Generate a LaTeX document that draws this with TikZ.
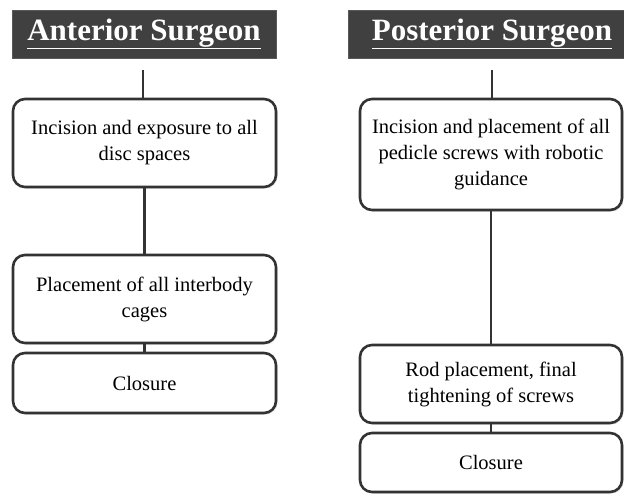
\documentclass[tikz,border=0pt]{standalone}
\usepackage{fontspec}
\setmainfont{Liberation Serif}
\usetikzlibrary{shadows}
\definecolor{darkline}{HTML}{333333}
\definecolor{titlegray}{HTML}{404040}

\begin{document}
\begin{tikzpicture}[x=1pt,y=-1pt,
  title node/.style={fill=titlegray,draw=gray!70!black,rectangle,text=white,
    font=\fontsize{31}{36}\selectfont\bfseries,inner sep=0pt},
  main node/.style={fill=white,rounded corners=12pt,draw=darkline,line width=2.6pt,
    align=center,font=\fontsize{20.5}{26}\selectfont,inner sep=0pt,
    drop shadow={shadow xshift=1.5pt,shadow yshift=-1.5pt,opacity=0.25}}]

  \useasboundingbox (0,0) rectangle (624,493);

  \node[title node,minimum width=264pt,minimum height=48pt] (0) at (144,34) {\underline{Anterior Surgeon}};
  \node[title node,minimum width=288pt,minimum height=48pt] (4) at (492,34) {\underline{Posterior Surgeon}};

  \coordinate (0s) at (143,70);
  \coordinate (4s) at (492,70);

  \node[main node,minimum width=263pt,minimum height=88pt] (1) at (144.5,143) {Incision and exposure to all\\disc spaces};
  \node[main node,minimum width=263pt,minimum height=88pt] (2) at (144.5,299) {Placement of all interbody\\cages};
  \node[main node,minimum width=263pt,minimum height=60pt] (3) at (144.5,383) {Closure};

  \node[main node,minimum width=262pt,minimum height=111pt] (5) at (491,154.5) {Incision and placement of all\\pedicle screws with robotic\\guidance};
  \node[main node,minimum width=262pt,minimum height=78pt] (6) at (491,384) {Rod placement, final\\tightening of screws};
  \node[main node,minimum width=262pt,minimum height=59pt] (7) at (491,462.5) {Closure};

  \path[draw=darkline,line width=2.6pt]
    (0s) edge (1.north -| 0s)
    (1) edge (2)
    (2) edge (3)
    (4s) edge (5.north -| 4s)
    (5) edge (6)
    (6) edge (7)
;
\end{tikzpicture}
\end{document}
